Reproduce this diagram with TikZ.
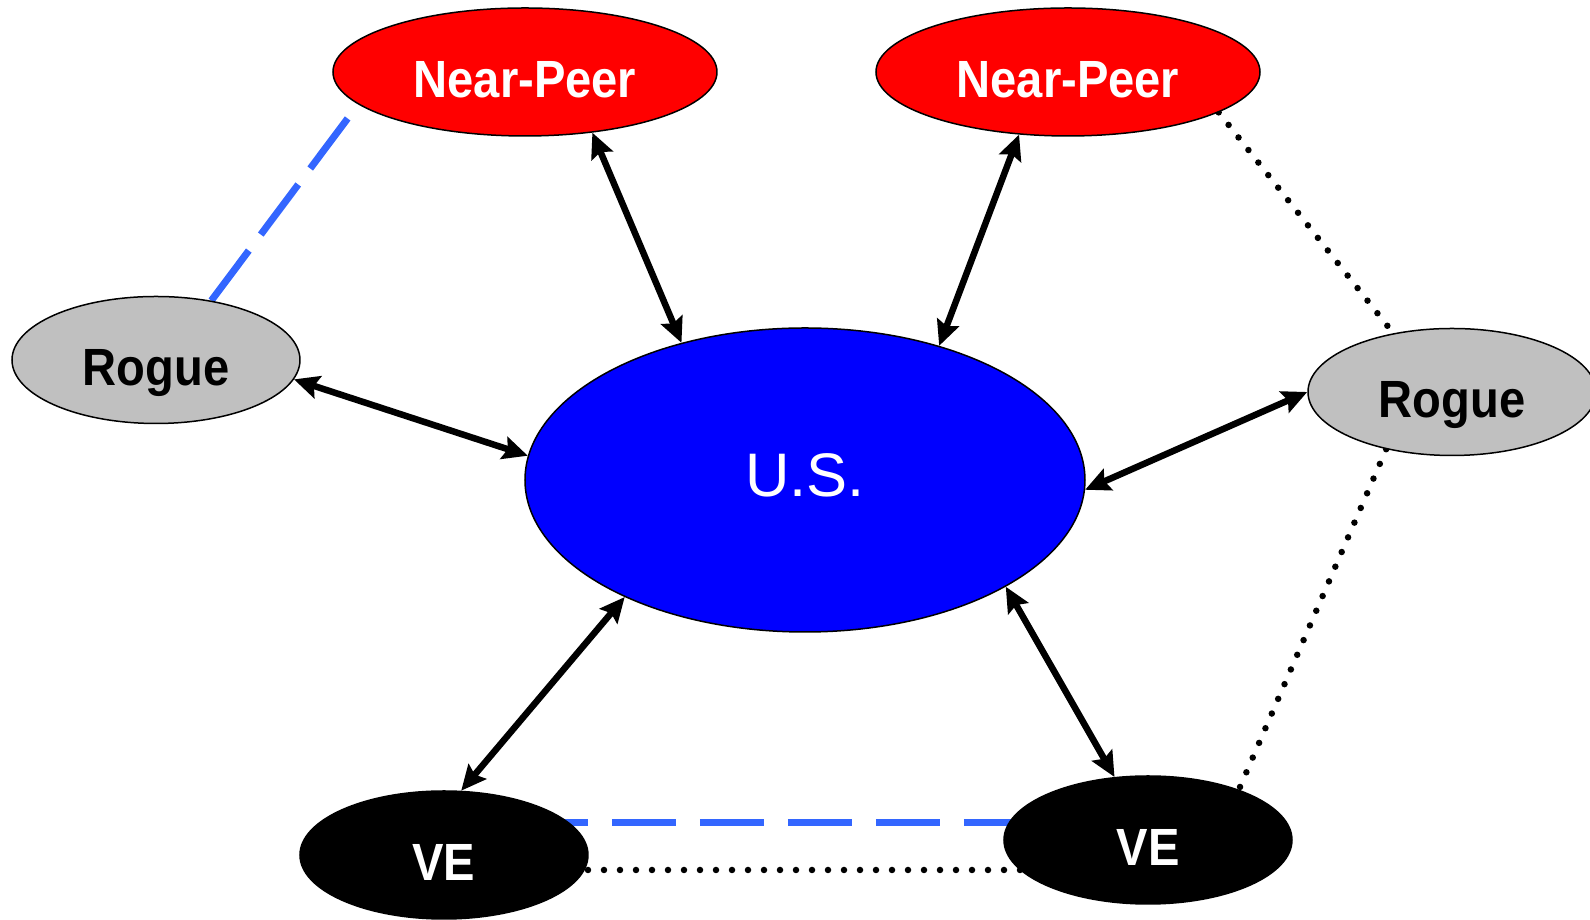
\documentclass[tikz,border=0pt]{standalone}
\usepackage{fontspec}
\setmainfont{Liberation Sans}
\newfontfamily\narrowfont{Liberation Sans}[FakeStretch=0.9]
\usetikzlibrary{shapes,shapes.geometric,arrows.meta,backgrounds}
\usepackage{xcolor}
\definecolor{usblue}{RGB}{0,0,255}
\definecolor{npred}{RGB}{255,0,0}
\definecolor{roguegray}{RGB}{192,192,192}
\definecolor{linkblue}{RGB}{51,102,255}
\tikzstyle{usnode} = [ellipse, minimum width=11.2cm, minimum height=6.08cm, inner sep=0pt, text centered, draw=black, line width=0.03cm, fill=usblue, text=white, font=\fontsize{35}{42}\selectfont, text height=0.88cm, text depth=0.23cm]
\tikzstyle{nearpeer} = [ellipse, minimum width=7.68cm, minimum height=2.56cm, inner sep=0pt, text centered, draw=black, line width=0.03cm, fill=npred, text=white, font=\narrowfont\fontsize{29.8}{36}\selectfont\bfseries, text height=1.03cm, text depth=0pt]
\tikzstyle{rogue} = [ellipse, minimum width=5.76cm, minimum height=2.54cm, inner sep=0pt, text centered, draw=black, line width=0.03cm, fill=roguegray, text=black, font=\narrowfont\fontsize{29.8}{36}\selectfont\bfseries, text height=1.03cm, text depth=0pt]
\tikzstyle{vent} = [ellipse, minimum width=5.76cm, minimum height=2.56cm, inner sep=0pt, text centered, draw=black, line width=0.03cm, fill=black, text=white, font=\narrowfont\fontsize{29.8}{36}\selectfont\bfseries, text height=1.03cm, text depth=0pt]
\tikzstyle{arrow} = [line width=0.13cm, <->, >={Stealth[length=0.5cm,width=0.46cm,inset=0.08cm]}]
\tikzstyle{bluedash} = [line width=0.14cm, draw=linkblue, dash pattern=on 1.25cm off 0.4cm]
\tikzstyle{dotline} = [line width=0.13cm, line cap=round, dash pattern=on 0pt off 0.32cm]

\begin{document}
\begin{tikzpicture}[node distance=2cm]
\useasboundingbox (-16.1,-8.8) rectangle (15.7,9.6);
%
% Define nodes
%
\node (us) [usnode] {U.S.};
\node (np_left) [nearpeer, above of=us, xshift=-5.6cm, yshift=6.16cm] {Near-Peer};
\node (np_right) [nearpeer, above of=us, xshift=5.26cm, yshift=6.16cm] {Near-Peer};
\node (rogue_left) [rogue, left of=us, xshift=-10.98cm, yshift=2.4cm] {Rogue};
\node (rogue_right) [rogue, right of=us, xshift=10.94cm, yshift=1.76cm] {Rogue};
\node (ve_left) [vent, below of=us, xshift=-7.22cm, yshift=-5.5cm] {VE};
\node (ve_right) [vent, below of=us, xshift=6.86cm, yshift=-5.2cm] {VE};
%
% Connect nodes
%
\begin{pgfonlayer}{background}
\draw [bluedash] (rogue_left.47) -- (np_left.191);
\draw [bluedash, dash phase=0.16cm, dash pattern=on 1.28cm off 0.48cm] ([yshift=0.64cm]ve_left.center) -- ([yshift=0.64cm]ve_left.center -| ve_right.center);
\draw [dotline] ([yshift=-0.3cm]ve_left.center) -- ([yshift=-0.3cm]ve_left.center -| ve_right.center);
\draw [dotline] (np_right.-15) -- (rogue_right.135);
\draw [dotline] (rogue_right.-139) -- (ve_right.29);
\end{pgfonlayer}
\draw [arrow] (np_left.-42) -- (us.132);
\draw [arrow] (np_right.-128) -- (us.45);
\draw [arrow] (rogue_left.-8) -- (us.175);
\draw [arrow] (rogue_right.180) -- (us.-2);
\draw [arrow] (ve_left.75) -- (us.213);
\draw [arrow] (ve_right.118) -- (us.-28);
\end{tikzpicture}
\end{document}
